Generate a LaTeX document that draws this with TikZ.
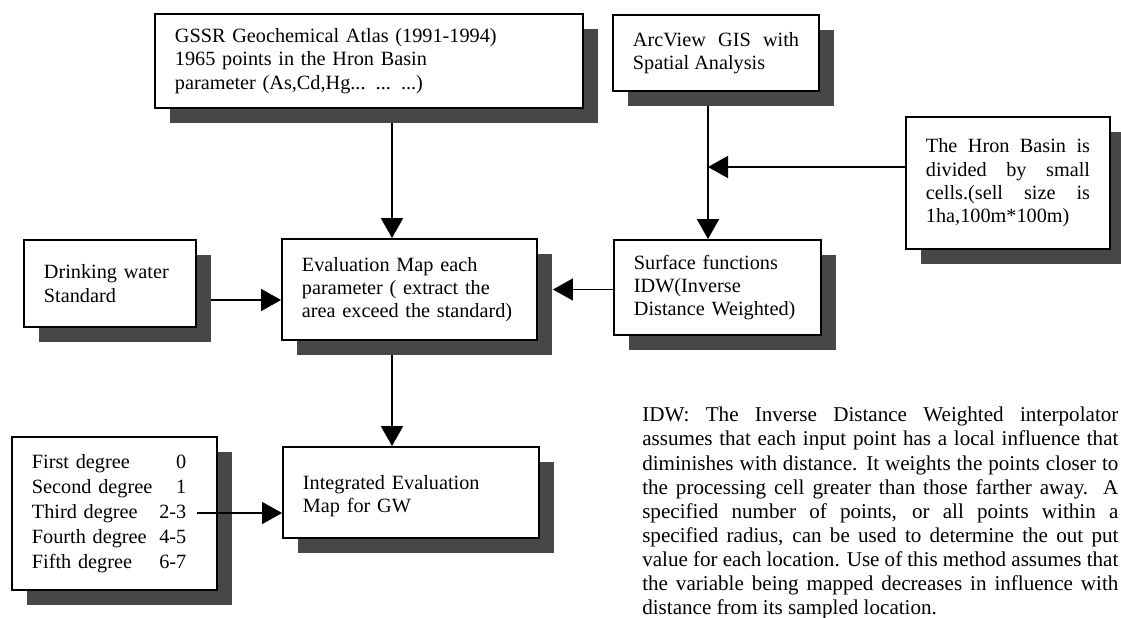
\documentclass[tikz,border=0pt]{standalone}
\usepackage{fontspec}
\setmainfont{Liberation Serif}
\usetikzlibrary{arrows.meta, positioning, shadows, backgrounds}

\begin{document}
\begin{tikzpicture}[
        x=0.025cm, y=-0.025cm,
        box/.style={draw, fill=white, line width=1.3pt, align=left, inner xsep=0.5cm, inner ysep=0pt,
            font=\fontsize{14.4}{16.6}\selectfont,
            drop shadow={shadow xshift=0.375cm, shadow yshift=-0.375cm, fill=black!72, opacity=1}},
        jbox/.style={box, align=justify},
        link/.style={->, line width=1.1pt},
        >={Triangle[length=0.5cm, width=0.55cm]}
    ]
        \useasboundingbox (0,0) rectangle (1121,618);

        % Nodes
        \node[box, minimum width=10.7cm, minimum height=2.35cm, text width=9.7cm] (atlas) at (369,61)
            {GSSR Geochemical Atlas (1991-1994)\\ 1965 points in the Hron Basin\\ parameter (As,Cd,Hg... ... ...)};
        \node[jbox, minimum width=5.15cm, minimum height=1.9cm, text width=4.15cm] (arcgis) at (716,53)
            {ArcView GIS with\linebreak Spatial Analysis};
        \node[jbox, minimum width=5.1cm, minimum height=3.3cm, text width=4.1cm] (basin) at (1008,183)
            {The Hron Basin is\linebreak divided by small\linebreak cells.(sell size is\linebreak 1ha,100m*100m)};
        \node[box, minimum width=4.3cm, minimum height=2.175cm, text width=3.3cm] (water) at (110,283.5)
            {Drinking water\\ Standard};
        \node[box, minimum width=6.375cm, minimum height=2.525cm, text width=5.375cm] (evalmap) at (409.5,289.5)
            {Evaluation Map each\\ parameter ( extract the\\ area exceed the standard)};
        \node[box, minimum width=5.175cm, minimum height=2.375cm, text width=4.175cm] (surface) at (717.5,287.5)
            {Surface functions\\ IDW(Inverse\\ Distance Weighted)};
        \node[box, minimum width=6.4cm, minimum height=2.275cm, text width=5.4cm, text depth=0.5cm] (integ) at (411,492.5)
            {Integrated Evaluation\\ Map for GW};
        \node[box, minimum width=5.125cm, minimum height=3.825cm, text width=4.125cm] (grade) at (114.5,513.5)
            {\fontsize{14.4}{17.8}\selectfont
             \begin{tabular}{@{}l@{\hspace{5pt}}r@{}}
             First degree & 0\\ Second degree & 1\\ Third degree & 2-3\\ Fourth degree & 4-5\\ Fifth degree & 6-7
             \end{tabular}};
        \node[anchor=north west, text width=11.9cm, align=justify, inner sep=0pt,
            font=\fontsize{15}{17.1}\selectfont] (idw) at (642,407)
            {IDW: The Inverse Distance Weighted interpolator\linebreak
             assumes that each input point has a local influence that\linebreak
             diminishes with distance. It weights the points closer to\linebreak
             the processing cell greater than those farther away. A\linebreak
             specified number of points, or all points within a\linebreak
             specified radius, can be used to determine the out put\linebreak
             value for each location. Use of this method assumes that\linebreak
             the variable being mapped decreases in influence with\linebreak
             distance from its sampled location.};

        \coordinate (trunk) at (392,0);
        \coordinate (gis) at (708,0);
        \coordinate (join) at (708,167);
        \coordinate (wjoin) at (0,300);
        \coordinate (deg3) at (197,513);

        % Arrows
        \begin{pgfonlayer}{background}
            \fill[white] (0,0) rectangle (1121,618);
            \draw[link, line width=1.4pt] (atlas.south -| trunk) -- (evalmap.north -| trunk);
            \draw[link, line width=1.4pt] (evalmap.south -| trunk) -- (integ.north -| trunk);
            \draw[link] (arcgis.south -| gis) -- (surface.north -| gis);
            \draw[link] (basin.west |- join) -- (join);
            \draw[link] (water.east |- wjoin) -- (evalmap.west |- wjoin);
            \draw[link] (surface.west |- evalmap.east) -- ([xshift=0.375cm]evalmap.east);
        \end{pgfonlayer}
        \draw[link] (deg3) -- (integ.west |- deg3);
    \end{tikzpicture}
\end{document}
